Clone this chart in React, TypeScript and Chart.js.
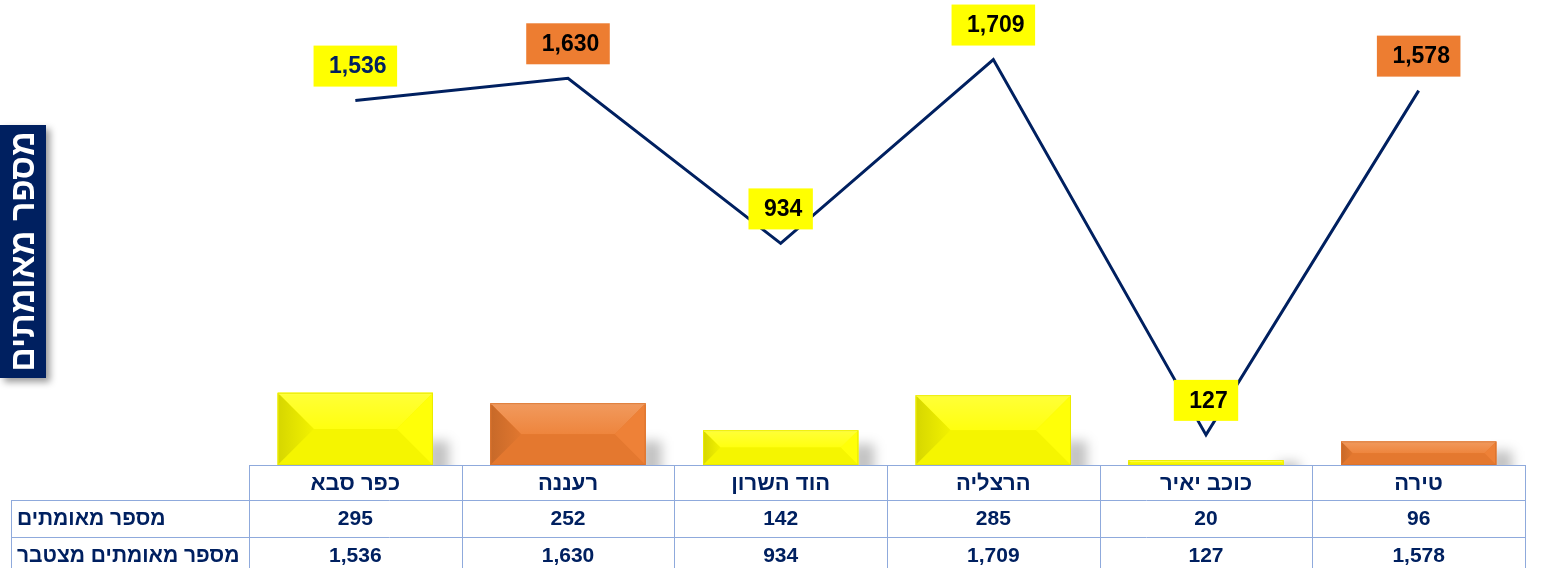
import React, { useEffect, useRef } from 'react';
import { Chart, registerables } from 'chart.js';

Chart.register(...registerables);

// ---- data ----
const categories = ['כפר סבא', 'רעננה', 'הוד השרון', 'הרצליה', 'כוכב יאיר', 'טירה'];
const dailyCases = [295, 252, 142, 285, 20, 96];
const cumulativeCases = [1536, 1630, 934, 1709, 127, 1578];
const barColors = ['#FFFF00', '#ED7D31', '#FFFF00', '#FFFF00', '#FFFF00', '#ED7D31'];
const labelBoxColors = ['#FFFF00', '#ED7D31', '#FFFF00', '#FFFF00', '#FFFF00', '#ED7D31'];
const labelTextColors = ['#002060', '#000000', '#000000', '#000000', '#000000', '#000000'];
const rowLabels = ['מספר מאומתים', 'מספר מאומתים מצטבר'];
const axisTitle = 'מספר מאומתים';
const barAxisMax = 1900;
const lineAxisMax = 1960;

const FONT = '"Liberation Sans", Arial, sans-serif';
const NAVY = '#002060';
const GRID = '#8FAADC';

const fmt = (v: number) => v.toLocaleString('en-US');

function hexToRgb(hex: string) {
  const h = hex.replace('#', '');
  return [parseInt(h.slice(0, 2), 16), parseInt(h.slice(2, 4), 16), parseInt(h.slice(4, 6), 16)];
}
function mix(hex: string, target: number, amt: number) {
  const [r, g, b] = hexToRgb(hex);
  const m = (c: number) => Math.round(c + (target - c) * amt);
  return `rgb(${m(r)},${m(g)},${m(b)})`;
}

function poly(ctx: CanvasRenderingContext2D, pts: number[][], fill: string | CanvasGradient) {
  ctx.beginPath();
  ctx.moveTo(pts[0][0], pts[0][1]);
  for (let i = 1; i < pts.length; i++) ctx.lineTo(pts[i][0], pts[i][1]);
  ctx.closePath();
  ctx.fillStyle = fill;
  ctx.fill();
}

const bevelBarsPlugin = {
  id: 'bevelBars',
  beforeDatasetDraw(chart: any, args: any) {
    if (args.index !== 0) return;
    const ctx = chart.ctx as CanvasRenderingContext2D;
    const area = chart.chartArea;
    const meta = chart.getDatasetMeta(0);
    ctx.save();
    ctx.beginPath();
    ctx.rect(area.left, area.top, area.right - area.left + 30, area.bottom - area.top);
    ctx.clip();
    meta.data.forEach((bar: any) => {
      const { x, y, base, width } = bar.getProps(['x', 'y', 'base', 'width'], true);
      const x1 = x + width / 2;
      const h = base - y;
      const sh = Math.min(h * 0.6, 24);
      ctx.filter = 'blur(6px)';
      ctx.fillStyle = 'rgba(0,0,0,0.24)';
      ctx.fillRect(x1 - 6, base - sh, 22, sh + 12);
      ctx.filter = 'none';
    });
    ctx.restore();
  },
  afterDatasetDraw(chart: any, args: any) {
    if (args.index !== 0) return;
    const ctx = chart.ctx as CanvasRenderingContext2D;
    const meta = chart.getDatasetMeta(0);
    ctx.save();
    meta.data.forEach((bar: any, i: number) => {
      const { x, y, base, width } = bar.getProps(['x', 'y', 'base', 'width'], true);
      const x0 = x - width / 2;
      const x1 = x + width / 2;
      const y0 = y;
      const y1 = base;
      const h = y1 - y0;
      const b = Math.min(h / 2, 40, width / 2);
      const c = barColors[i];
      // face
      poly(ctx, [[x0, y0], [x1, y0], [x1, y1], [x0, y1]], mix(c, 0, 0.03));
      // top facet
      const tg = ctx.createLinearGradient(0, y0, 0, y0 + b);
      tg.addColorStop(0, mix(c, 255, 0.22));
      tg.addColorStop(1, mix(c, 255, 0.06));
      poly(ctx, [[x0, y0], [x1, y0], [x1 - b, y0 + b], [x0 + b, y0 + b]], tg);
      // bottom facet
      poly(ctx, [[x0, y1], [x1, y1], [x1 - b, y1 - b], [x0 + b, y1 - b]], mix(c, 0, 0.04));
      // left facet with gradient
      const lg = ctx.createLinearGradient(x0, 0, x0 + b, 0);
      lg.addColorStop(0, mix(c, 0, 0.16));
      lg.addColorStop(1, mix(c, 0, 0.05));
      poly(ctx, [[x0, y0], [x0 + b, y0 + b], [x0 + b, y1 - b], [x0, y1]], lg);
      // right facet
      poly(ctx, [[x1, y0], [x1, y1], [x1 - b, y1 - b], [x1 - b, y0 + b]], mix(c, 255, 0.03));
      // thin top highlight
      ctx.fillStyle = mix(c, 255, 0.35);
      ctx.fillRect(x0, y0, width, 1.5);
      ctx.strokeStyle = mix(c, 0, 0.08);
      ctx.lineWidth = 1;
      ctx.strokeRect(x0 + 0.5, y0 + 0.5, width - 1, h - 1);
    });
    ctx.restore();
  },
};

const lineLabelsPlugin = {
  id: 'lineLabels',
  afterDatasetsDraw(chart: any) {
    const ctx = chart.ctx as CanvasRenderingContext2D;
    const meta = chart.getDatasetMeta(1);
    ctx.save();
    ctx.font = `bold 23px ${FONT}`;
    ctx.textBaseline = 'middle';
    ctx.textAlign = 'center';
    meta.data.forEach((pt: any, i: number) => {
      const text = fmt(cumulativeCases[i]);
      const tw = ctx.measureText(text).width;
      const bw = tw + 26;
      const bh = 41;
      const bottom = pt.y - 14;
      ctx.fillStyle = labelBoxColors[i];
      ctx.fillRect(pt.x - bw / 2, bottom - bh, bw, bh);
      ctx.fillStyle = labelTextColors[i];
      ctx.fillText(text, pt.x + 2.5, bottom - bh / 2 + 1);
    });
    ctx.restore();
  },
};

const tablePlugin = {
  id: 'dataTable',
  afterDraw(chart: any) {
    const ctx = chart.ctx as CanvasRenderingContext2D;
    const area = chart.chartArea;
    const xs = chart.scales.x;
    const n = categories.length;
    const cw = (area.right - area.left) / n;
    const tableLeft = 11;
    const rows = [area.bottom, area.bottom + 35, area.bottom + 72, area.bottom + 108];
    ctx.save();
    ctx.strokeStyle = GRID;
    ctx.lineWidth = 1;
    const hl = (y: number, xa: number, xb: number) => {
      ctx.beginPath();
      ctx.moveTo(xa, Math.round(y) + 0.5);
      ctx.lineTo(xb, Math.round(y) + 0.5);
      ctx.stroke();
    };
    const vl = (x: number, ya: number, yb: number) => {
      ctx.beginPath();
      ctx.moveTo(Math.round(x) + 0.5, ya);
      ctx.lineTo(Math.round(x) + 0.5, yb);
      ctx.stroke();
    };
    hl(rows[0], area.left, area.right);
    hl(rows[1], tableLeft, area.right);
    hl(rows[2], tableLeft, area.right);
    vl(tableLeft, rows[1], rows[3]);
    for (let i = 0; i <= n; i++) vl(area.left + cw * i, rows[0], rows[3]);

    ctx.fillStyle = NAVY;
    ctx.textBaseline = 'middle';
    ctx.textAlign = 'center';
    categories.forEach((cat, i) => {
      const cx = xs.getPixelForValue(i);
      ctx.font = `bold 22px ${FONT}`;
      ctx.fillText(cat, cx, (rows[0] + rows[1]) / 2 + 1);
      ctx.font = `bold 21px ${FONT}`;
      ctx.fillText(fmt(dailyCases[i]), cx, (rows[1] + rows[2]) / 2 + 1);
      ctx.fillText(fmt(cumulativeCases[i]), cx, (rows[2] + rows[3]) / 2 + 1);
    });
    ctx.font = `bold 21px ${FONT}`;
    ctx.textAlign = 'left';
    ctx.fillText(rowLabels[0], tableLeft + 6, (rows[1] + rows[2]) / 2 + 1);
    ctx.fillText(rowLabels[1], tableLeft + 6, (rows[2] + rows[3]) / 2 + 1);
    ctx.restore();
  },
};

const axisTitlePlugin = {
  id: 'axisTitleBox',
  afterDraw(chart: any) {
    const ctx = chart.ctx as CanvasRenderingContext2D;
    const bx = 0, by = 125, bw = 46, bh = 253;
    ctx.save();
    ctx.shadowColor = 'rgba(0,0,0,0.4)';
    ctx.shadowBlur = 7;
    ctx.shadowOffsetX = 4;
    ctx.shadowOffsetY = 4;
    ctx.fillStyle = NAVY;
    ctx.fillRect(bx, by, bw, bh);
    ctx.restore();
    ctx.save();
    ctx.translate(bx + bw / 2 + 1, by + bh / 2);
    ctx.rotate(-Math.PI / 2);
    ctx.fillStyle = '#FFFFFF';
    ctx.font = `bold 34px ${FONT}`;
    ctx.textAlign = 'center';
    ctx.textBaseline = 'middle';
    ctx.fillText(axisTitle, 0, 1);
    ctx.restore();
  },
};

export default function App() {
  const canvasRef = useRef<HTMLCanvasElement | null>(null);

  useEffect(() => {
    const canvas = canvasRef.current;
    if (!canvas) return;
    const chart = new Chart(canvas, {
      type: 'bar',
      data: {
        labels: categories,
        datasets: [
          {
            type: 'bar',
            label: rowLabels[0],
            data: dailyCases,
            backgroundColor: barColors,
            yAxisID: 'y',
            order: 2,
            categoryPercentage: 1,
            barPercentage: 0.73,
          },
          {
            type: 'line',
            label: rowLabels[1],
            data: cumulativeCases,
            borderColor: NAVY,
            borderWidth: 3,
            tension: 0,
            pointRadius: 0,
            pointHoverRadius: 0,
            borderJoinStyle: 'miter',
            yAxisID: 'y1',
            order: 1,
          },
        ],
      },
      options: {
        animation: false,
        responsive: false,
        maintainAspectRatio: false,
        layout: { padding: { left: 249, right: 21, top: 0, bottom: 103 } },
        plugins: {
          legend: { display: false },
          tooltip: { enabled: false },
          title: { display: false },
        },
        scales: {
          x: { display: false, offset: true, grid: { display: false } },
          y: { display: false, min: 0, max: barAxisMax },
          y1: { display: false, min: 0, max: lineAxisMax },
        },
      },
      plugins: [bevelBarsPlugin, lineLabelsPlugin, tablePlugin, axisTitlePlugin],
    } as any);
    return () => chart.destroy();
  }, []);

  return (
    <div style={{ position: 'fixed', left: 0, top: 0, width: 1546, height: 568, background: '#fff' }}>
      <canvas ref={canvasRef} width={1546} height={568} style={{ display: 'block', width: 1546, height: 568 }} />
    </div>
  );
}
